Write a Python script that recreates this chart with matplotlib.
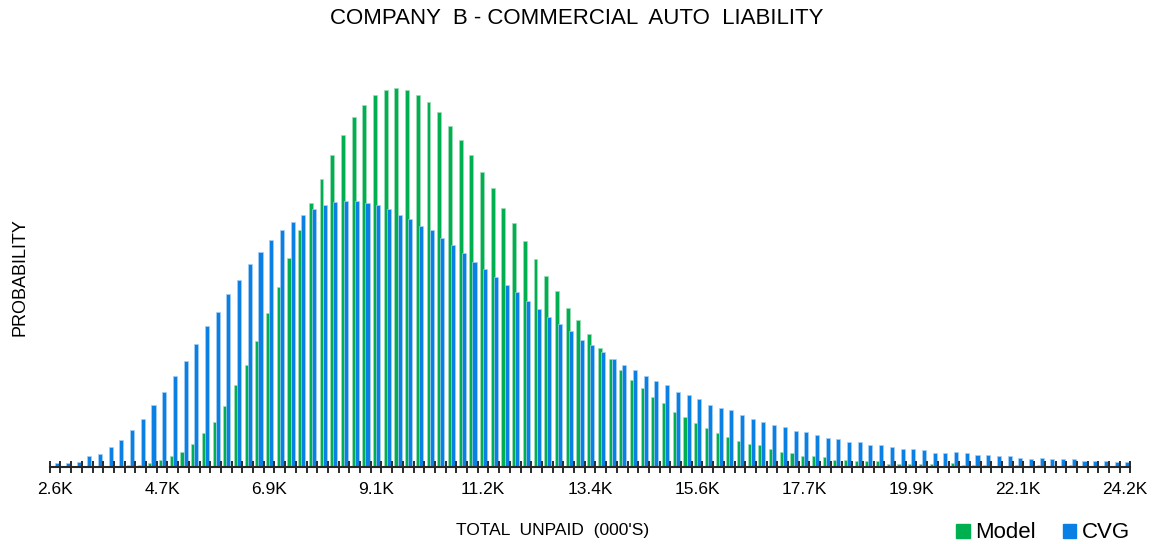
import numpy as np
import matplotlib
matplotlib.use("Agg")
import matplotlib.pyplot as plt
from matplotlib.patches import Patch

plt.rcParams['font.family'] = ['Liberation Sans', 'DejaVu Sans']

# Data (relative probability)
model = [0.00, 0.00, 0.00, 0.00, 0.00, 0.00, 0.005, 0.017, 0.017, 0.033,
         0.063, 0.103, 0.147, 0.227, 0.34, 0.45, 0.603, 0.813, 1.02, 1.257,
         1.533, 1.797, 2.09, 2.367, 2.633, 2.88, 3.117, 3.313, 3.493, 3.617,
         3.717, 3.77, 3.783, 3.77, 3.717, 3.647, 3.55, 3.41, 3.27, 3.117,
         2.95, 2.783, 2.59, 2.437, 2.257, 2.077, 1.91, 1.757, 1.59, 1.467,
         1.327, 1.187, 1.077, 0.967, 0.867, 0.783, 0.70, 0.633, 0.55, 0.493,
         0.437, 0.383, 0.34, 0.30, 0.257, 0.23, 0.217, 0.18, 0.15, 0.137,
         0.11, 0.11, 0.097, 0.067, 0.067, 0.053, 0.053, 0.053, 0.027, 0.027,
         0.027, 0.027, 0.027, 0.01, 0.033, 0.017, 0.017, 0.017, 0.01, 0.01,
         0.017, 0.005, 0.017, 0.005, 0.003, 0.017, 0.003, 0.003, 0.003, 0.002,
         0.002]
cvg = [0.033, 0.033, 0.047, 0.107, 0.13, 0.20, 0.27, 0.367, 0.477, 0.617,
       0.743, 0.91, 1.06, 1.227, 1.407, 1.55, 1.727, 1.867, 2.023, 2.147,
       2.27, 2.367, 2.45, 2.52, 2.577, 2.617, 2.647, 2.66, 2.66, 2.633,
       2.617, 2.577, 2.52, 2.48, 2.41, 2.367, 2.283, 2.217, 2.133, 2.047,
       1.977, 1.897, 1.813, 1.743, 1.66, 1.577, 1.493, 1.423, 1.353, 1.27,
       1.217, 1.147, 1.077, 1.02, 0.967, 0.91, 0.853, 0.813, 0.743, 0.717,
       0.673, 0.617, 0.59, 0.563, 0.52, 0.48, 0.45, 0.417, 0.40, 0.36,
       0.343, 0.317, 0.29, 0.277, 0.247, 0.247, 0.22, 0.22, 0.193, 0.18,
       0.18, 0.163, 0.137, 0.137, 0.147, 0.133, 0.117, 0.117, 0.103, 0.103,
       0.087, 0.073, 0.087, 0.073, 0.073, 0.073, 0.06, 0.06, 0.06, 0.047,
       0.047]
tick_labels = ['2.6K', '4.7K', '6.9K', '9.1K', '11.2K', '13.4K',
               '15.6K', '17.7K', '19.9K', '22.1K', '24.2K']

green = '#00b050'
blue = '#0a80e4'

W, H = 1154, 544
fig = plt.figure(figsize=(W / 100, H / 100), dpi=100)
ax = fig.add_axes([49.7 / W, 77.3 / H, (1130.5 - 49.7) / W, 416.7 / H])

x = np.arange(len(model))
ax.bar(x - 0.1, model, width=0.36, color=green, edgecolor='#9fdcb8',
       linewidth=0.5, zorder=1.0)
ax.bar(x + 0.2, cvg, width=0.38, color=blue, edgecolor='#a9d0f3',
       linewidth=0.5, zorder=1.1)

ax.set_xlim(-0.5, len(model) - 0.5)
ax.set_ylim(0, 4.167)

for s in ['top', 'right', 'left']:
    ax.spines[s].set_visible(False)
ax.spines['bottom'].set_linewidth(1.5)
ax.spines['bottom'].set_color('#262626')
ax.spines['bottom'].set_zorder(5)
ax.set_yticks([])

ax.set_xticks(np.arange(0, len(model), 10))
ax.set_xticklabels(tick_labels, fontsize=12.5)
ax.set_xticks(np.arange(-0.5, len(model), 1), minor=True)
ax.tick_params(axis='x', which='major', length=0, pad=11)
ax.tick_params(axis='x', which='minor', direction='inout', length=8,
               width=1.4, color='#2a2a2a')

fig.text(577 / W, 1 - 18 / H, 'COMPANY  B - COMMERCIAL  AUTO  LIABILITY',
         ha='center', va='center', fontsize=16)
fig.text(20 / W, 1 - 277 / H, 'PROBABILITY', rotation=90,
         ha='center', va='center', fontsize=13)
fig.text(553 / W, 1 - 530 / H, "TOTAL  UNPAID  (000'S)",
         ha='center', va='center', fontsize=12.5)

handles = [Patch(color=green), Patch(color=blue)]
fig.legend(handles, ['Model', 'CVG'], ncol=2, loc='center',
           bbox_to_anchor=(1043 / W, 1 - 533 / H), frameon=False,
           fontsize=16, handlelength=0.6, handleheight=0.6,
           handletextpad=0.25, columnspacing=1.2)

fig.savefig('out.png', dpi=100)
